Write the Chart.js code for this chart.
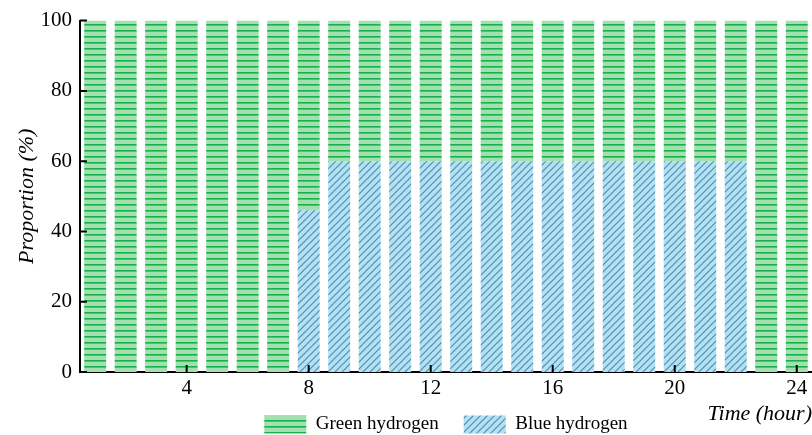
<!DOCTYPE html>
<html>
<head>
<meta charset="utf-8">
<script src="https://cdn.jsdelivr.net/npm/chart.js@4"></script>
<style>
  html, body { margin: 0; padding: 0; background: #fff; }
  #wrap { width: 812px; height: 435px; }
</style>
</head>
<body>
<div id="wrap"><canvas id="chart_canvas"></canvas></div>
<script>
// hours 1..24
var hours = [];
for (var h = 1; h <= 24; h++) hours.push(String(h));

var blueHydrogen = [0, 0, 0, 0, 0, 0, 0, 46, 60, 60, 60, 60, 60, 60, 60, 60, 60, 60, 60, 60, 60, 60, 0, 0];
var greenHydrogen = [100, 100, 100, 100, 100, 100, 100, 54, 40, 40, 40, 40, 40, 40, 40, 40, 40, 40, 40, 40, 40, 40, 100, 100];
var yTicks = [0, 20, 40, 60, 80, 100];
var xTickHours = ['4', '8', '12', '16', '20', '24'];

var serif = 'Liberation Serif';

function greenPattern() {
    var c = document.createElement('canvas');
    c.width = 6; c.height = 6;
    var g = c.getContext('2d');
    g.fillStyle = '#a3dfb0';
    g.fillRect(0, 0, 6, 6);
    g.fillStyle = '#17b24a';
    g.fillRect(0, 0, 6, 1.6);
    return g.createPattern(c, 'repeat');
}

function bluePattern() {
    var c = document.createElement('canvas');
    c.width = 7; c.height = 7;
    var g = c.getContext('2d');
    g.fillStyle = '#aee3f7';
    g.fillRect(0, 0, 7, 7);
    g.strokeStyle = '#5f88a3';
    g.lineWidth = 1.2;
    g.beginPath();
    g.moveTo(-1, 8); g.lineTo(8, -1);
    g.moveTo(-1, 1); g.lineTo(1, -1);
    g.moveTo(6, 8); g.lineTo(8, 6);
    g.stroke();
    return g.createPattern(c, 'repeat');
}

// inward tick marks drawn on the library's scales
var innerTicks = {
    id: 'innerTicks',
    afterDraw: function(chart) {
        var ctx = chart.ctx;
        var x = chart.scales.x, y = chart.scales.y;
        ctx.save();
        ctx.strokeStyle = '#000';
        ctx.lineWidth = 2;
        ctx.beginPath();
        for (var i = 0; i < yTicks.length; i++) {
            var py = y.getPixelForValue(yTicks[i]);
            ctx.moveTo(x.left, py); ctx.lineTo(x.left + 7, py);
        }
        for (var j = 0; j < xTickHours.length; j++) {
            var px = x.getPixelForValue(hours.indexOf(xTickHours[j]));
            ctx.moveTo(px, y.bottom); ctx.lineTo(px, y.bottom - 7);
        }
        ctx.stroke();
        ctx.restore();
    }
};

var ctx = document.getElementById('chart_canvas').getContext('2d');
var myChart = new Chart(ctx, {
    type: 'bar',
    data: {
        labels: hours,
        datasets: [
            { label: 'Blue hydrogen', data: blueHydrogen, backgroundColor: bluePattern(), borderWidth: 0 },
            { label: 'Green hydrogen', data: greenHydrogen, backgroundColor: greenPattern(), borderWidth: 0 }
        ]
    },
    options: {
        responsive: true,
        maintainAspectRatio: false,
        animation: false,
        layout: { padding: { top: 9, right: 0, left: 0, bottom: -9 } },
        datasets: { bar: { barPercentage: 0.72, categoryPercentage: 1 } },
        plugins: {
            legend: {
                position: 'bottom',
                fullSize: false,
                reverse: true,
                labels: {
                    boxWidth: 42, boxHeight: 18, padding: 25,
                    color: '#000',
                    font: { family: serif, size: 19 }
                }
            },
            tooltip: { enabled: false }
        },
        scales: {
            x: {
                stacked: true,
                border: { color: '#000', width: 2 },
                grid: { display: false, drawTicks: false },
                ticks: {
                    color: '#000',
                    font: { family: serif, size: 21 },
                    maxRotation: 0, autoSkip: false,
                    mirror: true, padding: -29,
                    callback: function(v) { var l = hours[v]; return xTickHours.indexOf(l) >= 0 ? l : ''; }
                },
                title: {
                    display: true, text: 'Time (hour)', align: 'end', color: '#000',
                    font: { family: serif, size: 22, style: 'italic' },
                    padding: { top: 86.8, bottom: -37.2 }
                }
            },
            y: {
                stacked: true,
                min: 0, max: 100,
                border: { color: '#000', width: 2 },
                grid: { display: false, drawTicks: false },
                ticks: {
                    stepSize: 20, color: '#000', padding: 8,
                    font: { family: serif, size: 21 }
                },
                title: {
                    display: true, text: 'Proportion (%)', color: '#000',
                    font: { family: serif, size: 22, style: 'italic' },
                    padding: { top: 14, bottom: -8 }
                }
            }
        }
    },
    plugins: [innerTicks]
});
</script>
</body>
</html>
